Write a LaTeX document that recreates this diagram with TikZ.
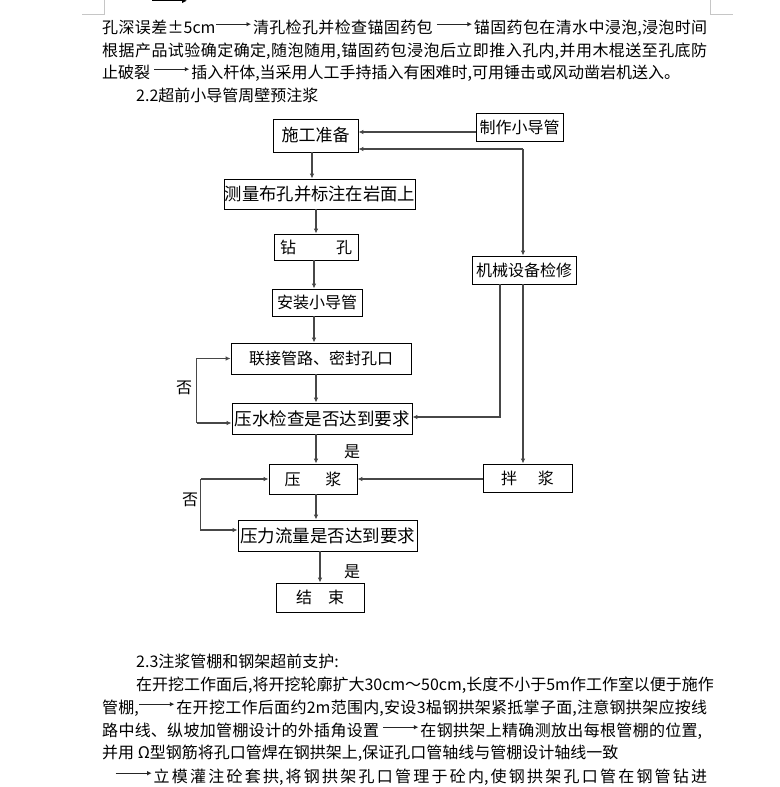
\documentclass[tikz,border=0pt]{standalone}
\usepackage{fontspec}
\setmainfont{Noto Sans CJK SC}
\usetikzlibrary{arrows.meta,calc}
\XeTeXlinebreaklocale "zh"
\XeTeXlinebreakskip=0pt plus 3pt minus 0.3pt
\newcommand\fsz[1]{\fontsize{#1}{#1}\selectfont}
\newcommand\txtarr[1][35pt]{\tikz[baseline=0pt]\draw[line width=1pt,black!85,-{Latex[length=4.5pt,width=4.5pt]}] (0pt,0.55em) -- (#1,0.55em);\kern1.5pt}
\newcommand\jline[2]{\parbox[b]{#1}{\parindent0pt\leftskip0pt\rightskip0pt minus 200pt\parfillskip0pt\hbadness10000\hfuzz50pt\relax #2}}
\tikzset{
  box/.style n args={2}{draw=black, line width=0.8pt, inner sep=0pt, minimum width=#1, minimum height=#2, font=\fsz{16}},
  conn/.style={line width=1.1pt, draw=black!72, -{Latex[length=5pt,width=4.5pt]}},
  para/.style={anchor=base west, inner sep=0pt, font=\fsz{16}},
  lbl/.style={inner sep=0pt, font=\fsz{16}}
}
\begin{document}
\begin{tikzpicture}[x=1pt,y=-1pt]
\useasboundingbox (0,0) rectangle (779,787);
% page corner marks and cut-off arrow
\draw[gray!45, line width=0.8pt] (104,0) -- (104,14) -- (82,14);
\draw[gray!45, line width=0.8pt] (710,0) -- (710,14) -- (733,14);
\draw[line width=1.3pt, -{Latex[length=5pt,width=5pt]}] (152,0.8) -- (187,0.8);

% top paragraph
\node[para] (t1) at (102,33) {\jline{605pt}{孔深误差±5cm\txtarr 清孔检孔并检查锚固药包 \txtarr 锚固药包在清水中浸泡,浸泡时间}};
\node[para] (t2) at (102,56) {\jline{605pt}{根据产品试验确定确定,随泡随用,锚固药包浸泡后立即推入孔内,并用木棍送至孔底防}};
\node[para] (t3) at (102,78) {止破裂 \txtarr 插入杆体,当采用人工手持插入有困难时,可用锤击或风动凿岩机送入。};
\node[para] (t4) at (136,101) {2.2超前小导管周壁预注浆};

% flowchart boxes
\node[box={85pt}{33pt}, font=\fsz{17}] (prep) at (315.5,135.5) {施工准备};
\node[box={87pt}{28pt}] (make) at (519.5,127) {制作小导管};
\node[box={180pt}{30pt}, font=\fsz{17.3}] (survey) at (320,194) {测量布孔并标注在岩面上};
\node[box={84pt}{26pt}] (drill) at (316,247) {钻\hspace{40pt}孔};
\node[box={104pt}{28pt}] (mech) at (524,270) {机械设备检修};
\node[box={90pt}{27pt}] (install) at (317,302.5) {安装小导管};
\node[box={180pt}{31pt}] (connect) at (321,358.5) {联接管路、密封孔口};
\node[box={180pt}{31pt}, font=\fsz{17.5}] (water) at (322,418.5) {压水检查是否达到要求};
\node[box={88pt}{30pt}] (grout) at (313,479) {压\hspace{25pt}浆};
\node[box={89pt}{28pt}] (mix) at (527.5,478) {拌\hspace{21pt}浆};
\node[box={179pt}{31pt}, font=\fsz{17.5}] (flow) at (327.5,535.5) {压力流量是否达到要求};
\node[box={88pt}{29pt}] (end) at (320,597.5) {结\hspace{16pt}束};

% labels
\node[lbl] (no1) at (184,388) {否};
\node[lbl] (no2) at (190,500) {否};
\node[lbl] (yes1) at (352,452) {是};
\node[lbl] (yes2) at (352,572) {是};

% connectors
\draw[conn] ([yshift=-5pt]make.west) -- ([yshift=-5pt]make.west -| prep.east);
\coordinate (j1) at ([xshift=-1pt,yshift=-13.5pt]prep.east -| mech.north);
\draw[conn] (j1) -- (j1 -| prep.east);
\draw[conn] (j1) -- (j1 |- mech.north);
\draw[conn] ([xshift=-3.5pt]prep.south) -- ([xshift=-3.5pt]prep.south |- survey.north);
\draw[conn] (drill.north |- survey.south) -- (drill.north);
\draw[conn] ([xshift=-2pt]drill.south) -- ([xshift=-2pt]drill.south |- install.north);
\draw[conn] ([xshift=-3pt]install.south) -- ([xshift=-3pt]install.south |- connect.north);
\draw[conn] ([xshift=-5pt]connect.south) -- ([xshift=-5pt]connect.south |- water.north);
\draw[conn] ([xshift=-6pt]water.south) -- ([xshift=-6pt]water.south |- grout.north);
\draw[conn] ([xshift=-24pt]mech.south) |- ([yshift=1.5pt]water.east);
\draw[conn] ([xshift=-1pt]mech.south) -- ([xshift=-1pt]mech.south |- mix.north);
\draw[conn] ([yshift=-1pt]mix.west) -- ([yshift=-1pt]mix.west -| grout.east);
\coordinate (l1t) at ([xshift=-34pt]connect.west);
\coordinate (l1b) at ([yshift=-4.5pt]water.west -| l1t);
\draw[conn] (l1b) -- (l1b -| water.west);
\draw[conn] (l1b) -- (l1t) -- (connect.west);
\coordinate (l2t) at ([xshift=-68pt]grout.west);
\coordinate (l2b) at ([yshift=5.5pt]flow.west -| l2t);
\draw[conn] (l2t) -- (l2b) -- (l2b -| flow.west);
\draw[conn] (l2t) -- (grout.west);
\draw[conn] ([xshift=3pt]grout.south) -- ([xshift=3pt]grout.south |- flow.north);
\draw[conn] (end.north |- flow.south) -- (end.north);

% bottom paragraph
\node[para] (b1) at (136,667) {2.3注浆管棚和钢架超前支护:};
\node[para] (b2) at (136,690) {\jline{571pt}{在开挖工作面后,将开挖轮廓扩大30cm～50cm,长度不小于5m作工作室以便于施作}};
\node[para] (b3) at (102,713) {\jline{605pt}{管棚,\txtarr 在开挖工作后面约2m范围内,安设3榀钢拱架紧抵掌子面,注意钢拱架应按线}};
\node[para] (b4) at (102,736) {\jline{600pt}{路中线、纵坡加管棚设计的外插角设置 \txtarr 在钢拱架上精确测放出每根管棚的位置,}};
\node[para] (b5) at (102,758) {并用 Ω型钢筋将孔口管焊在钢拱架上,保证孔口管轴线与管棚设计轴线一致};
\node[para] (b6) at (115,782) {\jline{592pt}{\txtarr[36pt]立模灌注砼套拱,将钢拱架孔口管理于砼内,使钢拱架孔口管在钢管钻进}};
\end{tikzpicture}
\end{document}
